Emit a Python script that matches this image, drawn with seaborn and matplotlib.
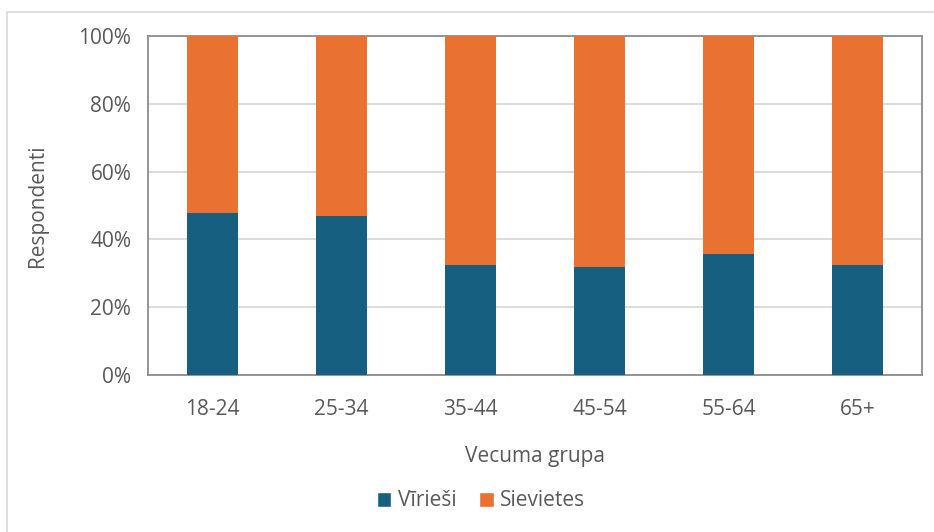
import matplotlib
matplotlib.use("Agg")
import matplotlib.pyplot as plt
from matplotlib.patches import Patch, Rectangle
import seaborn as sns
import pandas as pd

categories = ["18-24", "25-34", "35-44", "45-54", "55-64", "65+"]
virieši = [47.9, 46.8, 32.5, 31.9, 35.8, 32.4]
sievietes = [52.1, 53.2, 67.5, 68.1, 64.2, 67.6]
yticks = [0, 20, 40, 60, 80, 100]
ytick_labels = ["0%", "20%", "40%", "60%", "80%", "100%"]

blue = "#175F80"
orange = "#E97132"
txt = "#595959"
fs = 15

sns.set_theme(style="white")
plt.rcParams["font.family"] = ["Open Sans", "DejaVu Sans"]

df = pd.DataFrame({"grupa": categories, "Vīrieši": virieši, "Sievietes": sievietes})
df["kopā"] = df["Vīrieši"] + df["Sievietes"]

fig = plt.figure(figsize=(9.34, 5.32), dpi=100)
ax = fig.add_axes([148/934, 1 - 375/532, (922-148)/934, (375-36)/532])

sns.barplot(data=df, x="grupa", y="kopā", color=orange, width=0.40, ax=ax,
            saturation=1, edgecolor="none", zorder=3)
sns.barplot(data=df, x="grupa", y="Vīrieši", color=blue, width=0.40, ax=ax,
            saturation=1, edgecolor="none", zorder=4)

ax.set_ylim(0, 100)
ax.set_xlim(-0.5, len(categories) - 0.5)
ax.set_yticks(yticks)
ax.set_yticklabels(ytick_labels)
ax.yaxis.grid(True, color="#D9D9D9", linewidth=1.3, zorder=0)
ax.set_axisbelow(True)
for s in ax.spines.values():
    s.set_visible(True)
    s.set_color("#8C8C8C")
    s.set_linewidth(1.3)
ax.tick_params(axis="both", length=0, labelsize=fs, colors=txt)
ax.tick_params(axis="x", pad=17)
ax.tick_params(axis="y", pad=12)
ax.set_xlabel("Vecuma grupa", fontsize=fs, color=txt, labelpad=19)
ax.set_ylabel("Respondenti", fontsize=fs, color=txt, labelpad=22)

handles = [Patch(facecolor=blue, label="Vīrieši"), Patch(facecolor=orange, label="Sievietes")]
fig.legend(handles=handles, loc="center", bbox_to_anchor=(481/934, 1 - 501/532), ncol=2,
           frameon=False, fontsize=fs, labelcolor=txt, handlelength=0.7,
           handleheight=0.7, handletextpad=0.3, columnspacing=1.1)

fig.patches.append(Rectangle((7/934, -0.05), 1.2, 1 - 12/532 + 0.05, transform=fig.transFigure,
                             fill=False, edgecolor="#D9D9D9", linewidth=1.2, zorder=-1))

fig.savefig("out.png", dpi=100)
